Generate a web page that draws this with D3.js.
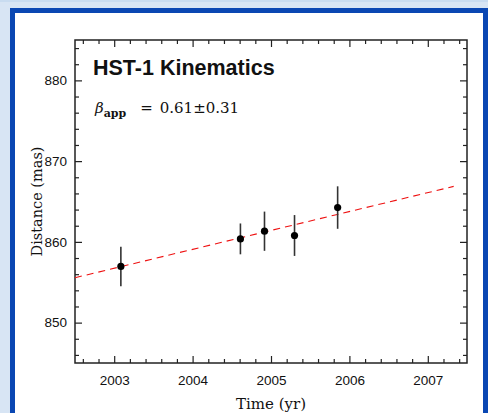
<!DOCTYPE html>
<html>
<head>
<meta charset="utf-8">
<script src="https://cdn.jsdelivr.net/npm/d3@7"></script>
<style>
  html, body { margin: 0; padding: 0; background: #d8e5f4; }
  svg { display: block; }
</style>
</head>
<body>
<div id="chart"></div>
<script>
// observations: epoch (yr), distance (mas), 1-sigma error (mas)
var years = [2003.085, 2004.61, 2004.917, 2005.30, 2005.85];
var distances = [856.96, 860.37, 861.32, 860.79, 864.25];
var errors = [2.44, 1.91, 2.43, 2.53, 2.63];

// linear fit end points
var fitYears = [2002.5, 2007.33];
var fitDistances = [855.56, 866.87];

var xTicks = [2003, 2004, 2005, 2006, 2007];
var yTicks = [850, 860, 870, 880];

var title = "HST-1 Kinematics";
var betaValue = "0.61\u00b10.31";

var chartWidth = 488, chartHeight = 413;
var margin = {top: 40, right: 21, bottom: 50, left: 75},
    width = chartWidth - margin.left - margin.right,
    height = chartHeight - margin.top - margin.bottom;

var svg = d3.select("#chart").append("svg")
    .attr("width", chartWidth)
    .attr("height", chartHeight);

// page frame
svg.append("rect")
    .attr("x", 0).attr("y", 0)
    .attr("width", chartWidth).attr("height", 2)
    .attr("fill", "#c9dcf0");
svg.append("rect")
    .attr("x", 12.5).attr("y", 10.5)
    .attr("width", 473).attr("height", 420)
    .attr("fill", "#ffffff")
    .attr("stroke", "#0a47b3")
    .attr("stroke-width", 5);

var x = d3.scaleLinear().domain([2002.5, 2007.5]).range([0, width]),
    y = d3.scaleLinear().domain([845, 885]).range([height, 0]);

var g = svg.append("g")
    .attr("transform", "translate(" + margin.left + "," + margin.top + ")");

var xMinor = d3.range(2002.6, 2007.5, 0.2).filter(function(d) { return Math.abs(d - Math.round(d)) > 0.01; });
var yMinor = d3.range(846, 885, 2).filter(function(d) { return d % 10 !== 0; });

function styleAxis(sel) {
  sel.select(".domain").remove();
  sel.selectAll(".tick line").attr("stroke", "#222").attr("stroke-width", 1.2);
  sel.selectAll(".tick text")
    .attr("font-family", "'Liberation Sans', Arial, sans-serif")
    .attr("font-size", 13.5)
    .attr("fill", "#111");
}

// major + minor ticks on all four sides, pointing inward
g.append("g").attr("transform", "translate(0," + height + ")")
    .call(d3.axisBottom(x).tickValues(xTicks).tickSize(-7).tickPadding(12).tickFormat(d3.format("d")))
    .call(styleAxis);
g.append("g").attr("transform", "translate(0," + height + ")")
    .call(d3.axisBottom(x).tickValues(xMinor).tickSize(-4).tickFormat(""))
    .call(styleAxis);
g.append("g")
    .call(d3.axisTop(x).tickValues(xTicks).tickSize(-7).tickFormat(""))
    .call(styleAxis);
g.append("g")
    .call(d3.axisTop(x).tickValues(xMinor).tickSize(-4).tickFormat(""))
    .call(styleAxis);
g.append("g")
    .call(d3.axisLeft(y).tickValues(yTicks).tickSize(-7).tickPadding(8).tickFormat(d3.format("d")))
    .call(styleAxis);
g.append("g")
    .call(d3.axisLeft(y).tickValues(yMinor).tickSize(-4).tickFormat(""))
    .call(styleAxis);
g.append("g").attr("transform", "translate(" + width + ",0)")
    .call(d3.axisRight(y).tickValues(yTicks).tickSize(-7).tickFormat(""))
    .call(styleAxis);
g.append("g").attr("transform", "translate(" + width + ",0)")
    .call(d3.axisRight(y).tickValues(yMinor).tickSize(-4).tickFormat(""))
    .call(styleAxis);

g.append("rect")
    .attr("width", width).attr("height", height)
    .attr("fill", "none")
    .attr("stroke", "#222")
    .attr("stroke-width", 1.5);

// fit line
var fit = fitYears.map(function(d, i) { return [d, fitDistances[i]]; });
g.append("path")
    .datum(fit)
    .attr("d", d3.line().x(function(d) { return x(d[0]); }).y(function(d) { return y(d[1]); }))
    .attr("fill", "none")
    .attr("stroke", "#ee1111")
    .attr("stroke-width", 1.1)
    .attr("stroke-dasharray", "7,5");

var points = years.map(function(d, i) { return {t: d, d: distances[i], e: errors[i]}; });

g.selectAll(".err")
  .data(points)
  .enter().append("line")
    .attr("class", "err")
    .attr("x1", function(d) { return x(d.t); })
    .attr("x2", function(d) { return x(d.t); })
    .attr("y1", function(d) { return y(d.d - d.e); })
    .attr("y2", function(d) { return y(d.d + d.e); })
    .attr("stroke", "#333")
    .attr("stroke-width", 1.6);

g.selectAll(".dot")
  .data(points)
  .enter().append("circle")
    .attr("class", "dot")
    .attr("cx", function(d) { return x(d.t); })
    .attr("cy", function(d) { return y(d.d); })
    .attr("r", 3.6)
    .attr("fill", "#000");

// annotations
g.append("text")
    .attr("x", 18).attr("y", 35)
    .attr("font-family", "'Liberation Sans', Arial, sans-serif")
    .attr("font-weight", "bold")
    .attr("font-size", 21.5)
    .attr("fill", "#111")
    .text(title);

var beta = g.append("text")
    .attr("x", 20).attr("y", 73)
    .attr("font-family", "'DejaVu Serif', serif")
    .attr("font-size", 15)
    .attr("fill", "#111");
beta.append("tspan").attr("font-style", "italic").text("\u03b2");
beta.append("tspan").attr("dy", 4).attr("font-size", 11).attr("font-weight", "bold").text("app");
beta.append("tspan").attr("dy", -4).attr("dx", 14).text("=");
beta.append("tspan").attr("dx", 7).text(betaValue);

// axis titles
svg.append("text")
    .attr("x", margin.left + width / 2).attr("y", 409)
    .attr("text-anchor", "middle")
    .attr("font-family", "'DejaVu Serif', serif")
    .attr("font-size", 15)
    .attr("fill", "#111")
    .text("Time (yr)");

svg.append("text")
    .attr("transform", "translate(42," + (margin.top + height / 2) + ") rotate(-90)")
    .attr("text-anchor", "middle")
    .attr("font-family", "'DejaVu Serif', serif")
    .attr("font-size", 14.5)
    .attr("fill", "#111")
    .text("Distance (mas)");
</script>
</body>
</html>
